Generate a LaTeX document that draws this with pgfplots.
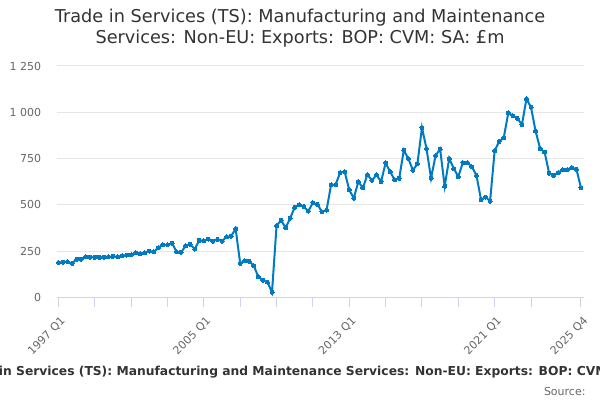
\documentclass[border=0pt]{standalone}
\usepackage{pgfplots}
\pgfplotsset{compat=1.18}
\usepackage{fontspec}
\setmainfont{DejaVu Sans}
\definecolor{linec}{RGB}{0,122,195}
\definecolor{gridc}{RGB}{230,230,230}
\definecolor{axisc}{RGB}{204,214,235}
\definecolor{txt}{RGB}{51,51,51}
\definecolor{lbl}{RGB}{102,102,102}
\begin{document}
\begin{tikzpicture}[x=1bp,y=1bp]
\path[use as bounding box] (0,0) rectangle (600,400);
\begin{scope}
\clip (0,0) rectangle (600,400);
\begin{axis}[
  at={(57.3bp,102.7bp)}, anchor=south west,
  scale only axis, width=526.4bp, height=231.3bp,
  xmin=-0.25, xmax=115.6, ymin=0, ymax=1250,
  axis x line*=bottom, axis y line*=left,
  y axis line style={draw=none},
  x axis line style={draw=axisc, line width=1bp},
  ytick={0,250,500,750,1000,1250},
  yticklabels={0,250,500,750,1 000,1 250},
  ymajorgrids, grid style={draw=gridc, line width=1bp},
  ytick style={draw=none},
  xtick={0,32,64,96,115},
  xticklabels={1997 Q1,2005 Q1,2013 Q1,2021 Q1,2025 Q4},
  minor xtick={8,16,24,40,48,56,72,80,88,104},
  tick align=outside, major tick length=10bp, minor tick length=10bp,
  xtick style={draw=axisc, line width=1bp},
  minor x tick style={draw=axisc, line width=1bp},
  yticklabel style={font=\fontsize{11bp}{13bp}\selectfont, text=lbl, inner sep=0pt, xshift=-6bp},
  xticklabel style={font=\fontsize{11bp}{13bp}\selectfont, text=lbl, xshift=5bp, yshift=-12bp, rotate=45, anchor=east, inner sep=0pt},
  clip=false,
]
\addplot[color=linec, line width=2bp, mark=*, mark size=2bp, mark options={draw=linec, fill=linec, line width=0pt}] coordinates {
(0,188)(1,190)(2,192)(3,183)(4,206)(5,206)(6,219)(7,217)(8,216)(9,216)
(10,217)(11,219)(12,221)(13,219)(14,225)(15,228)(16,230)(17,241)(18,236)(19,241)
(20,250)(21,246)(22,268)(23,284)(24,284)(25,293)(26,245)(27,243)(28,279)(29,286)
(30,261)(31,308)(32,306)(33,315)(34,304)(35,313)(36,304)(37,326)(38,331)(39,370)
(40,183)(41,197)(42,194)(43,170)(44,110)(45,92)(46,82)(47,27)(48,386)(49,417)
(50,375)(51,428)(52,486)(53,500)(54,491)(55,466)(56,511)(57,502)(58,462)(59,471)
(60,607)(61,609)(62,674)(63,678)(64,580)(65,536)(66,625)(67,591)(68,663)(69,632)
(70,661)(71,625)(72,726)(73,679)(74,634)(75,643)(76,795)(77,750)(78,687)(79,721)
(80,917)(81,804)(82,643)(83,766)(84,801)(85,600)(86,750)(87,696)(88,652)(89,728)
(90,728)(91,705)(92,659)(93,527)(94,542)(95,520)(96,792)(97,842)(98,862)(99,996)
(100,982)(101,967)(102,933)(103,1072)(104,1027)(105,899)(106,804)(107,784)(108,670)(109,659)
(110,674)(111,688)(112,690)(113,701)(114,692)(115,592)
};
\end{axis}
\node[text=txt, font=\fontsize{17.7bp}{21bp}\selectfont, align=center] at (300,372) {Trade in Services (TS): Manufacturing and Maintenance\\Services: Non-EU: Exports: BOP: CVM: SA: £m};
\node[text=txt, font=\bfseries\fontsize{12.3bp}{14bp}\selectfont] at (311,28) {Trade in Services (TS): Manufacturing and Maintenance Services: Non-EU: Exports: BOP: CVM: SA: £m};
\node[text=lbl, font=\fontsize{11bp}{13bp}\selectfont, anchor=east] at (589,9) {Source:};
\end{scope}
\end{tikzpicture}
\end{document}
